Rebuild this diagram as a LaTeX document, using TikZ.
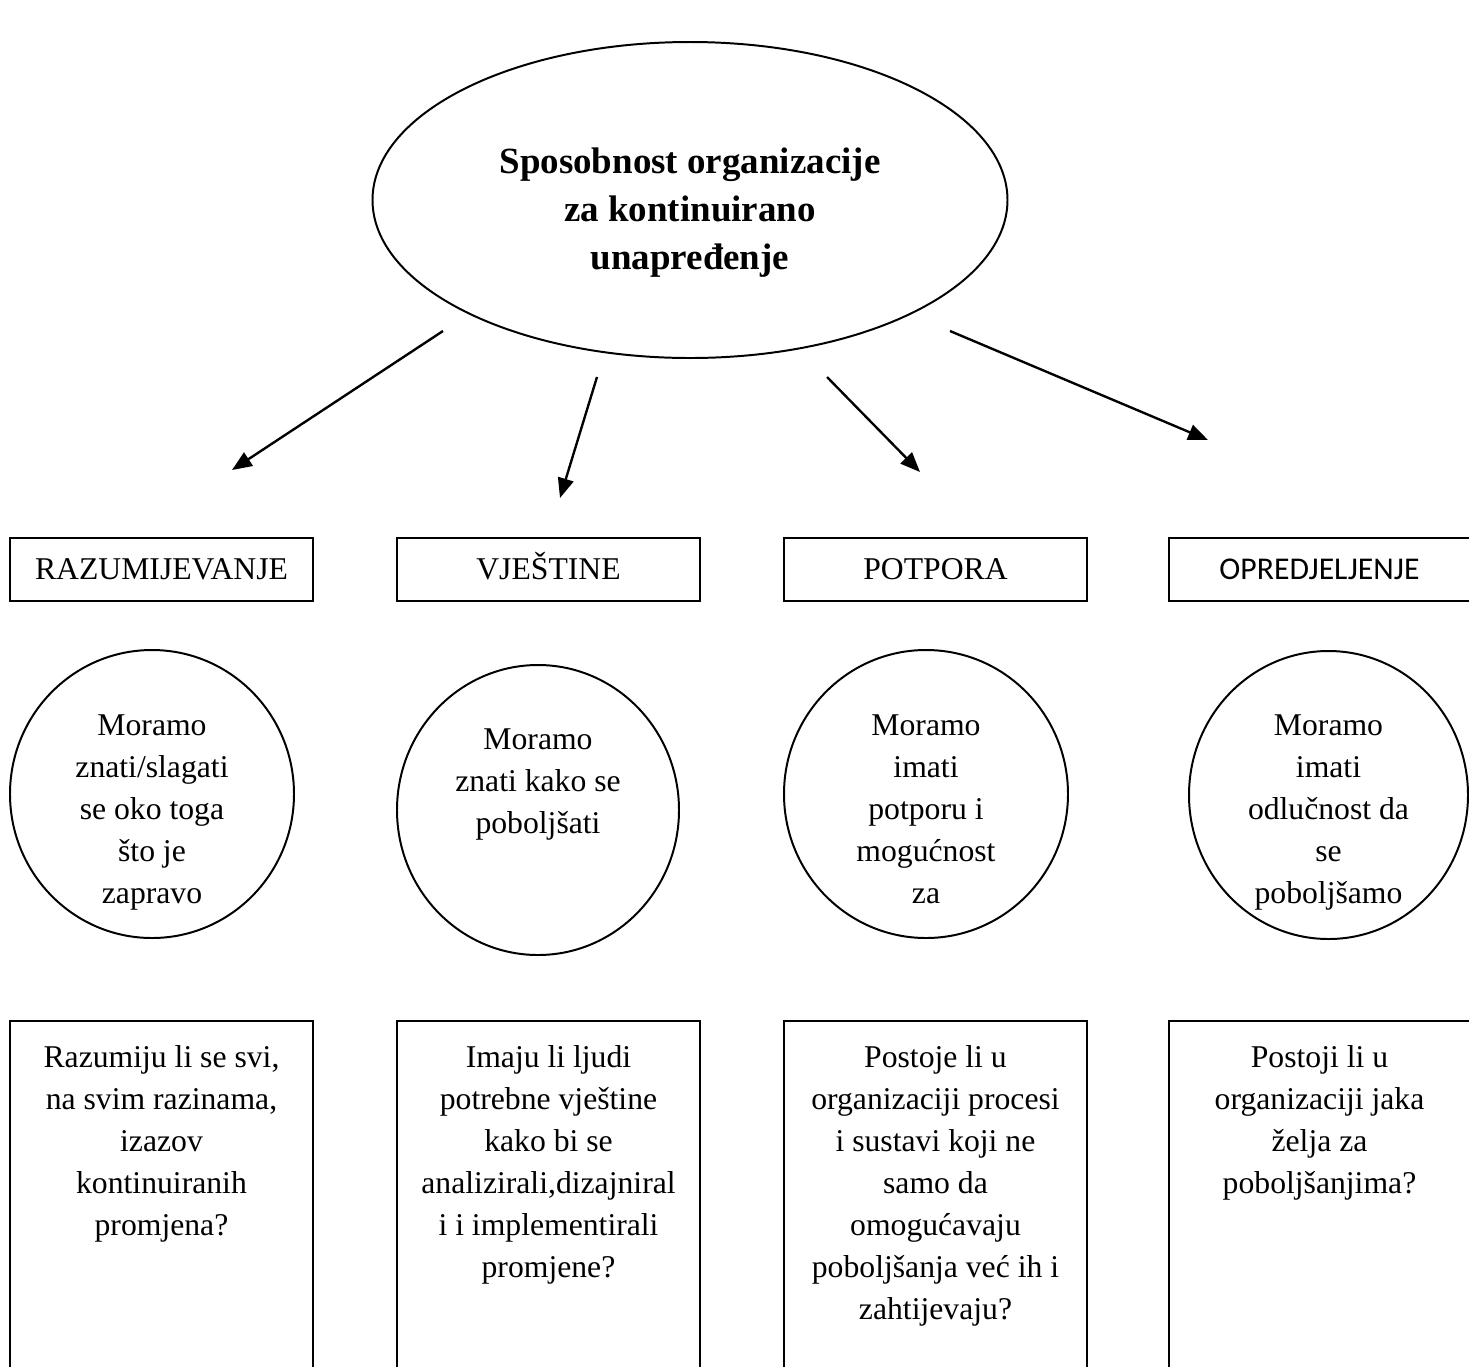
\documentclass[tikz,border=0pt]{standalone}
\usepackage{fontspec}
\setmainfont{Liberation Serif}
\newfontfamily\calibrifont{Carlito}
\usetikzlibrary{shapes.geometric,arrows.meta}
\newcommand{\pxl}{0.3788pt}

\begin{document}
\begin{tikzpicture}[x=0.3788pt,y=-0.3788pt,
  line width=0.75pt,
  txt/.style={font=\fontsize{12}{15.9}\selectfont, align=center, inner sep=0pt},
  bigoval/.style={draw, ellipse, minimum width=635*\pxl, minimum height=316*\pxl, inner sep=0pt},
  titletxt/.style={font=\bfseries\fontsize{14}{18.2}\selectfont, align=center, inner sep=0pt},
  headbox/.style={draw, rectangle, minimum width=303*\pxl, minimum height=63*\pxl, txt, text height=7.9pt, text depth=0pt},
  oval/.style={draw, ellipse, minimum width=284*\pxl, minimum height=288*\pxl, inner sep=0pt},
  qbox/.style={draw, rectangle, anchor=north, minimum width=303*\pxl, minimum height=420*\pxl},
  arr/.style={line width=0.9pt, -{Triangle[length=7.5pt,width=6pt]}}]
\useasboundingbox (0,0) rectangle (1469,1366);
\clip (0,0) rectangle (1469,1366);

% main ellipse
\node[bigoval] (sposob) at (690,200) {};
\node[titletxt] (sposobtxt) at (690,213) {Sposobnost organizacije\\za kontinuirano\\unapređenje};

% arrows
\coordinate (a1s) at (443,331);  \coordinate (a1e) at (232,470);
\coordinate (a2s) at (597,377);  \coordinate (a2e) at (560,498);
\coordinate (a3s) at (827,377);  \coordinate (a3e) at (920,472);
\coordinate (a4s) at (950,331);  \coordinate (a4e) at (1208,440);
\draw[arr] (a1s) -- (a1e);
\draw[arr] (a2s) -- (a2e);
\draw[arr] (a3s) -- (a3e);
\draw[arr] (a4s) -- (a4e);

% headings
\node[headbox] (razum) at (161.5,569.5) {RAZUMIJEVANJE};
\node[headbox] (vjest) at (548.5,569.5) {VJEŠTINE};
\node[headbox] (potpora) at (935.5,569.5) {POTPORA};
\node[headbox, minimum width=301*\pxl, font=\calibrifont\fontsize{12}{15.9}\selectfont] (opred) at (1319.5,569.5) {OPREDJELJENJE};

% ovals
\node[oval] (razumov) at (152,794) {};
\node[oval, minimum width=282*\pxl, minimum height=290*\pxl] (vjestov) at (538,810) {};
\node[oval] (potporaov) at (926,794) {};
\node[oval, minimum width=279*\pxl] (opredov) at (1328.5,795) {};
\node[txt, anchor=north] (razumovtxt) at (152,714) {Moramo\\znati/slagati\\se oko toga\\što je\\zapravo};
\node[txt, anchor=north] (vjestovtxt) at (538,728) {Moramo\\znati kako se\\poboljšati};
\node[txt, anchor=north] (potporaovtxt) at (926,714) {Moramo\\imati\\potporu i\\mogućnost\\za};
\node[txt, anchor=north] (opredovtxt) at (1328.5,714) {Moramo\\imati\\odlučnost da\\se\\poboljšamo};

% question boxes
\node[qbox] (razumq) at (161.5,1020) {};
\node[qbox] (vjestq) at (548.5,1020) {};
\node[qbox] (potporaq) at (935.5,1020) {};
\node[qbox, minimum width=301*\pxl] (opredq) at (1319.5,1020) {};
\node[txt, anchor=north] (razumqtxt) at (161.5,1045) {Razumiju li se svi,\\na svim razinama,\\izazov\\kontinuiranih\\promjena?};
\node[txt, anchor=north] (vjestqtxt) at (548.5,1045) {Imaju li ljudi\\potrebne vještine\\kako bi se\\analizirali,dizajniral\\i i implementirali\\promjene?};
\node[txt, anchor=north] (potporaqtxt) at (935.5,1045) {Postoje li u\\organizaciji procesi\\i sustavi koji ne\\samo da\\omogućavaju\\poboljšanja već ih i\\zahtijevaju?};
\node[txt, anchor=north] (opredqtxt) at (1319.5,1045) {Postoji li u\\organizaciji jaka\\želja za\\poboljšanjima?};
\end{tikzpicture}
\end{document}
